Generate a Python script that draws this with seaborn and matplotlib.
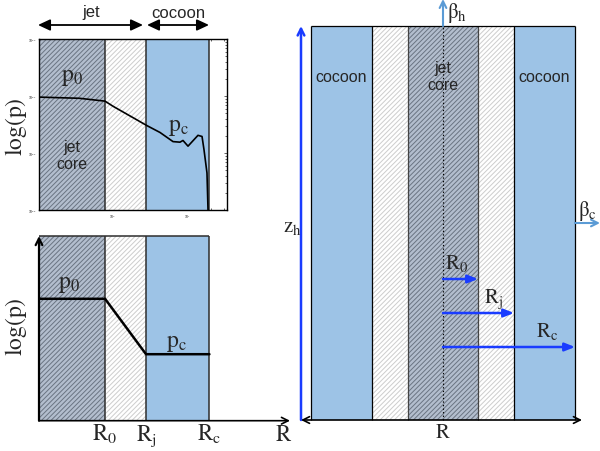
import matplotlib
matplotlib.use("Agg")
import matplotlib.pyplot as plt
import seaborn as sns

# ---------------- data ----------------
# top-left panel: pressure profile (log10 R, log10 p)
profile_log_r = [-0.973, -0.45, -0.107, 0.0, 0.267, 0.453, 0.627, 0.80, 0.893, 0.933,
                 1.0, 1.133, 1.187, 1.213, 1.253, 1.267]
profile_log_p = [-4.02, -4.04, -4.09, -4.18, -4.38, -4.52, -4.64, -4.80, -4.81, -4.78,
                 -4.88, -4.69, -4.71, -4.94, -5.35, -6.0]
# region edges (log10 R): jet core | jet | cocoon
profile_edges_log_r = [-0.107, 0.44, 1.28]
profile_xlim_log = [-0.987, 1.52]
profile_ylim_log = [-6, -3]

# bottom-left panel: schematic profile
schem_edges = [1.0, 1.62, 2.58]          # R0, Rj, Rc
schem_edge_labels = [r"$\mathrm{R_0}$", r"$\mathrm{R_j}$", r"$\mathrm{R_c}$"]
schem_R_pos = 3.70
schem_xmax = 3.80
log_p0 = 0.66
log_pc = 0.36

# right panel: cylinder radii (core, jet, cocoon) and height
cyl_radii = [35, 71, 132]
cyl_height = 394
radius_arrow_labels = [r"$\mathrm{R_0}$", r"$\mathrm{R_j}$", r"$\mathrm{R_c}$"]

# ---------------- style ----------------
sns.set_theme(style="white")
plt.rcParams["font.family"] = ["Liberation Sans", "DejaVu Sans"]
plt.rcParams["mathtext.fontset"] = "stix"
plt.rcParams["hatch.linewidth"] = 0.7

BLUE_FILL = "#9dc3e6"
DARK_FACE = "#b3bece"
DARK_HATCH = "#6a7482"
LIGHT_HATCH = "#cdcdcd"
EDGE = "#2e2e2e"
ARROW_BLUE = "#1a3cff"
LIGHT_BLUE = "#5b9bd5"
HATCH = "///////"

fig = plt.figure(figsize=(6, 4.52), dpi=100)


def fx(px):
    return px / 600.0


def fy(py):
    return 1 - py / 452.0


# ---------------- top-left: measured profile ----------------
ax1 = fig.add_axes([fx(39), fy(211), fx(227) - fx(39), fy(40) - fy(211)])
ax1.set_xscale("log")
ax1.set_yscale("log")
x_lo, x_hi = 10 ** profile_xlim_log[0], 10 ** profile_xlim_log[1]
ax1.set_xlim(x_lo, x_hi)
ax1.set_ylim(10 ** profile_ylim_log[0], 10 ** profile_ylim_log[1])
e = [10 ** v for v in profile_edges_log_r]
ax1.axvspan(x_lo, e[0], facecolor=DARK_FACE, edgecolor=DARK_HATCH, hatch=HATCH, lw=0)
ax1.axvspan(e[0], e[1], facecolor="white", edgecolor=LIGHT_HATCH, hatch=HATCH, lw=0)
ax1.axvspan(e[1], e[2], facecolor=BLUE_FILL, lw=0)
for v in e:
    ax1.axvline(v, color=EDGE, lw=1.1)
sns.lineplot(x=[10 ** v for v in profile_log_r], y=[10 ** v for v in profile_log_p],
             ax=ax1, color="black", lw=1.2, sort=False, estimator=None)
for s in ax1.spines.values():
    s.set_color("black")
    s.set_linewidth(1.0)
ax1.tick_params(which="both", direction="in", top=True, right=True, left=True,
                bottom=True, labelsize=2.5, width=0.5, pad=2)
ax1.tick_params(which="major", length=2.5)
ax1.tick_params(which="minor", length=1.2)

fig.text(fx(72), fy(77), r"$\mathrm{p_0}$", fontsize=17, ha="center", va="center")
fig.text(fx(72), fy(156), "jet\ncore", fontsize=11.5, ha="center", va="center",
         linespacing=1.1)
fig.text(fx(178), fy(127), r"$\mathrm{p_c}$", fontsize=17, ha="center", va="center")
fig.text(fx(16), fy(127), r"$\mathrm{log(p)}$", fontsize=17, rotation=90,
         ha="center", va="center")

# jet / cocoon extents above the top-left panel
fig.text(fx(91), fy(13), "jet", fontsize=12, ha="center", va="center")
fig.text(fx(178), fy(13), "cocoon", fontsize=12, ha="center", va="center")
arr = dict(arrowstyle="<|-|>,head_length=0.6,head_width=0.28", lw=1.3,
           color="black", shrinkA=0, shrinkB=0)
fig.add_artist(matplotlib.patches.FancyArrowPatch(
    (fx(38), fy(26)), (fx(143), fy(26)), transform=fig.transFigure,
    mutation_scale=12, **arr))
fig.add_artist(matplotlib.patches.FancyArrowPatch(
    (fx(147), fy(26)), (fx(209), fy(26)), transform=fig.transFigure,
    mutation_scale=12, **arr))

# ---------------- bottom-left: schematic profile ----------------
ax2 = fig.add_axes([fx(39), fy(421.7), fx(290) - fx(39), fy(237) - fy(421.7)])
ax2.set_xlim(0, schem_xmax)
ax2.set_ylim(0, 1)
R0, Rj, Rc = schem_edges
ax2.axvspan(0, R0, facecolor=DARK_FACE, edgecolor=DARK_HATCH, hatch=HATCH, lw=0)
ax2.axvspan(R0, Rj, facecolor="white", edgecolor=LIGHT_HATCH, hatch=HATCH, lw=0)
ax2.axvspan(Rj, Rc, facecolor=BLUE_FILL, lw=0)
for v in schem_edges:
    ax2.axvline(v, color=EDGE, lw=1.1)
ax2.hlines(1, 0, Rc, color=EDGE, lw=1.1, clip_on=False)
sns.lineplot(x=[0, R0, Rj, Rc], y=[log_p0, log_p0, log_pc, log_pc], ax=ax2,
             color="black", lw=1.8, sort=False, estimator=None)
for s in ax2.spines.values():
    s.set_visible(False)
ax2.annotate("", xy=(0, 1.0), xytext=(0, 0),
             arrowprops=dict(arrowstyle="->", lw=1.6, color="black",
                             shrinkA=0, shrinkB=0), annotation_clip=False)
ax2.annotate("", xy=(schem_xmax, 0), xytext=(0, 0),
             arrowprops=dict(arrowstyle="->", lw=1.2, color="black",
                             shrinkA=0, shrinkB=0), annotation_clip=False)
ax2.set_xticks(schem_edges + [schem_R_pos],
               labels=schem_edge_labels + [r"$\mathrm{R}$"])
ax2.set_yticks([])
ax2.tick_params(axis="x", length=0, pad=1, labelsize=16.5)
ax2.set_xlabel("")
ax2.set_ylabel("")
fig.text(fx(69), fy(284), r"$\mathrm{p_0}$", fontsize=17, ha="center", va="center")
fig.text(fx(176), fy(343), r"$\mathrm{p_c}$", fontsize=17, ha="center", va="center")
fig.text(fx(16), fy(327), r"$\mathrm{log(p)}$", fontsize=17, rotation=90,
         ha="center", va="center")

# ---------------- right: cylinder cross-section ----------------
CX = 443
ax3 = fig.add_axes([fx(290), 0, fx(600) - fx(290), 1])
ax3.set_xlim(290 - CX, 600 - CX)
ax3.set_ylim(-31, 421)
ax3.axis("off")
r0, rj, rc = cyl_radii
H = cyl_height
ax3.bar([-rc, rj], H, width=rc - rj, align="edge", color=BLUE_FILL, lw=0)
ax3.bar([-rj, r0], H, width=rj - r0, align="edge", facecolor="white",
        edgecolor=LIGHT_HATCH, hatch=HATCH, lw=0)
ax3.bar([-r0], H, width=2 * r0, align="edge", facecolor=DARK_FACE,
        edgecolor=DARK_HATCH, hatch=HATCH, lw=0)
ax3.vlines([-rc, -rj, rj, rc], 0, H, color="black", lw=0.9)
ax3.vlines([-r0, r0], 0, H, color="#444444", lw=0.9)
ax3.hlines(H, -rc, rc, color="black", lw=0.9)
ax3.vlines([0], 0, H, color="black", lw=0.8, linestyles=(0, (1.2, 2.0)))

ax3.text(-(rj + rc) / 2, 343, "cocoon", fontsize=11.5, ha="center", va="center")
ax3.text((rj + rc) / 2, 343, "cocoon", fontsize=11.5, ha="center", va="center")
ax3.text(0, 344, "jet\ncore", fontsize=11.5, ha="center", va="center",
         linespacing=1.1)

# z_h arrow
ax3.annotate("", xy=(-142, H), xytext=(-142, 0),
             arrowprops=dict(arrowstyle="->", lw=1.8, color=ARROW_BLUE,
                             shrinkA=0, shrinkB=0))
ax3.text(-141, 193, r"$\mathrm{z_h}$", fontsize=15, ha="right", va="center")
# beta_h
ax3.annotate("", xy=(0, 421), xytext=(0, H),
             arrowprops=dict(arrowstyle="->", lw=1.5, color=LIGHT_BLUE,
                             shrinkA=0, shrinkB=0), annotation_clip=False)
ax3.text(4, 408, r"$\mathrm{β_h}$", fontsize=15, ha="left", va="center")
# beta_c
ax3.annotate("", xy=(157, 197), xytext=(rc, 197),
             arrowprops=dict(arrowstyle="->", lw=1.5, color=LIGHT_BLUE,
                             shrinkA=0, shrinkB=0), annotation_clip=False)
ax3.text(144, 210, r"$\mathrm{β_c}$", fontsize=15, ha="center", va="center")

# radius arrows
arrow_y = [141, 107, 73]
label_xy = [(14, 157), (51, 122), (104, 89)]
for r, yy, lab, (lx, ly) in zip(cyl_radii, arrow_y, radius_arrow_labels, label_xy):
    ax3.annotate("", xy=(r, yy), xytext=(0, yy),
                 arrowprops=dict(arrowstyle="-|>,head_length=0.5,head_width=0.2",
                                 lw=1.8, color=ARROW_BLUE, shrinkA=0, shrinkB=0))
    ax3.text(lx, ly, lab, fontsize=15, ha="center", va="center")

# bottom R axis
ax3.annotate("", xy=(139, 0), xytext=(-142, 0),
             arrowprops=dict(arrowstyle="<->", lw=1.2, color="black",
                             shrinkA=0, shrinkB=0))
ax3.text(0, -12, r"$\mathrm{R}$", fontsize=15, ha="center", va="center")

fig.savefig("out.png", dpi=100)
